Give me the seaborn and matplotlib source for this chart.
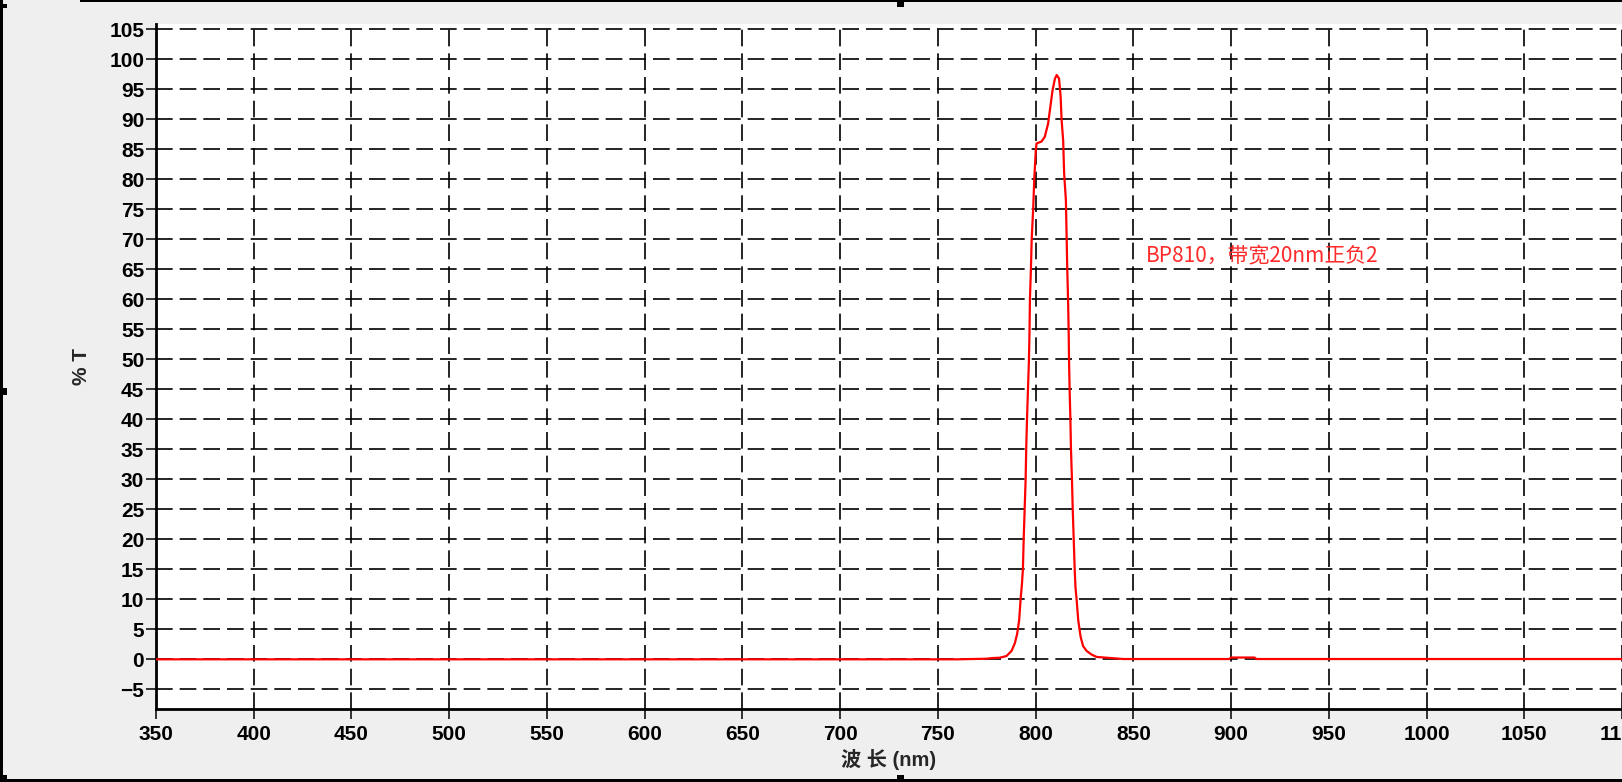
import matplotlib
matplotlib.use("Agg")
import matplotlib.pyplot as plt
import seaborn as sns
import pandas as pd
from matplotlib.patches import Rectangle

# ---- data ----
wavelength = [350, 500, 650, 760, 775, 777.4, 781.7, 785.1, 787.7, 789.4, 790.6,
              791.6, 792.3, 793.0, 793.5, 793.9, 794.4, 794.9, 795.2, 795.6, 796.1,
              796.6, 796.9, 797.1, 797.6, 798.0, 798.8, 799.3, 800.1, 800.5, 803.0,
              804.7, 806.4, 807.3, 808.7, 809.9, 810.8, 812.0, 812.8, 813.3, 814.1,
              814.6, 815.5, 815.9, 816.2, 816.6, 816.9, 817.1, 817.4, 817.8, 818.1,
              818.6, 819.0, 819.5, 820.0, 820.4, 821.0, 821.8, 823.0, 824.3, 826.1,
              828.6, 831.2, 837.1, 845, 899, 900, 912, 913, 1000, 1100]
transmission = [0, 0, 0, 0, 0.1, 0.2, 0.27, 0.55, 1.4, 2.7, 4.3,
                6.55, 9.9, 12.5, 15, 20, 25, 30, 35, 40, 45,
                50, 55, 60, 65, 70, 75.4, 79.9, 84.9, 86.0, 86.3,
                87.1, 89.3, 91.5, 94.9, 96.8, 97.4, 96.8, 93.8, 89.9, 86.5,
                81.0, 76.5, 70, 65, 60, 55, 50, 45, 40, 35,
                30, 25, 20, 15, 12, 9.9, 6.55, 3.8, 2.2, 1.4,
                0.8, 0.4, 0.25, 0.05, 0.05, 0.3, 0.3, 0.05, 0.05, 0.05]
x_ticks = list(range(350, 1101, 50))
y_ticks = list(range(-5, 106, 5))
annotation = "BP810，带宽20nm正负2"
x_label = "波 长 (nm)"
y_label = "% T"

df = pd.DataFrame({"wl": wavelength, "T": transmission})

sns.set_theme(style="white")
plt.rcParams["font.family"] = ["Liberation Sans", "Noto Sans CJK SC", "DejaVu Sans"]

W, H = 1622, 782
fig = plt.figure(figsize=(W / 100, H / 100), dpi=100)
fig.patch.set_facecolor("#efefef")

ax = fig.add_axes([156 / W, (H - 709.3) / H, (W - 156) / W, (709.3 - 24) / H])
ax.set_facecolor("white")

sns.lineplot(data=df, x="wl", y="T", ax=ax, color="#ff0000", linewidth=1.6,
             estimator=None, sort=False, zorder=3)

ax.set_xlim(350, 1100)
ax.set_ylim(-8.33, 105.9)
ax.set_xticks(x_ticks)
ax.set_yticks(y_ticks)
ax.set_xlabel("")
ax.set_ylabel("")

for lab in ax.get_xticklabels() + ax.get_yticklabels():
    lab.set_fontweight("bold")
    lab.set_fontsize(15)
    lab.set_color("black")
ax.tick_params(axis="both", direction="out", length=7, width=1.1, color="black")
ax.tick_params(axis="y", pad=1.5, left=True)
ax.tick_params(axis="x", pad=4, bottom=True)

ax.grid(True, color="black", linewidth=1.2, linestyle=(0, (10, 4.2)), zorder=1)
ax.set_axisbelow(True)

for s in ["top", "right"]:
    ax.spines[s].set_visible(False)
for s in ["left", "bottom"]:
    ax.spines[s].set_visible(True)
    ax.spines[s].set_color("black")
    ax.spines[s].set_linewidth(2.0)

ax.text(856.5, 66.4, annotation, color="#ff2a2a", fontsize=15,
        family=["Noto Sans CJK SC", "DejaVu Sans"], ha="left", va="baseline",
        zorder=4)

fig.text(81.7 / W, 1 - 366.7 / H, y_label, rotation=90, fontsize=15,
         fontweight="bold", ha="center", va="center")
fig.text(889 / W, 1 - 759 / H, x_label, fontsize=14.5, fontweight="bold",
         ha="center", va="center")

# screenshot frame decorations
def px_rect(x0, y0, w, h):
    fig.patches.append(Rectangle((x0 / W, 1 - (y0 + h) / H), w / W, h / H,
                                 transform=fig.transFigure, facecolor="black",
                                 edgecolor="none", zorder=10))

px_rect(0, 0, 3, H)            # left border
px_rect(80, 0, W - 80, 2)      # top border
px_rect(0, H - 3, W, 3)        # bottom border
px_rect(897, 0, 7, 7)          # top handle
px_rect(897, H - 7, 7, 7)      # bottom handle
px_rect(0, 388, 7, 7)          # left handle
px_rect(0, 4, 7, 4)            # corner
px_rect(0, H - 7, 7, 7)        # corner

fig.savefig("out.png", dpi=100, facecolor=fig.get_facecolor())
